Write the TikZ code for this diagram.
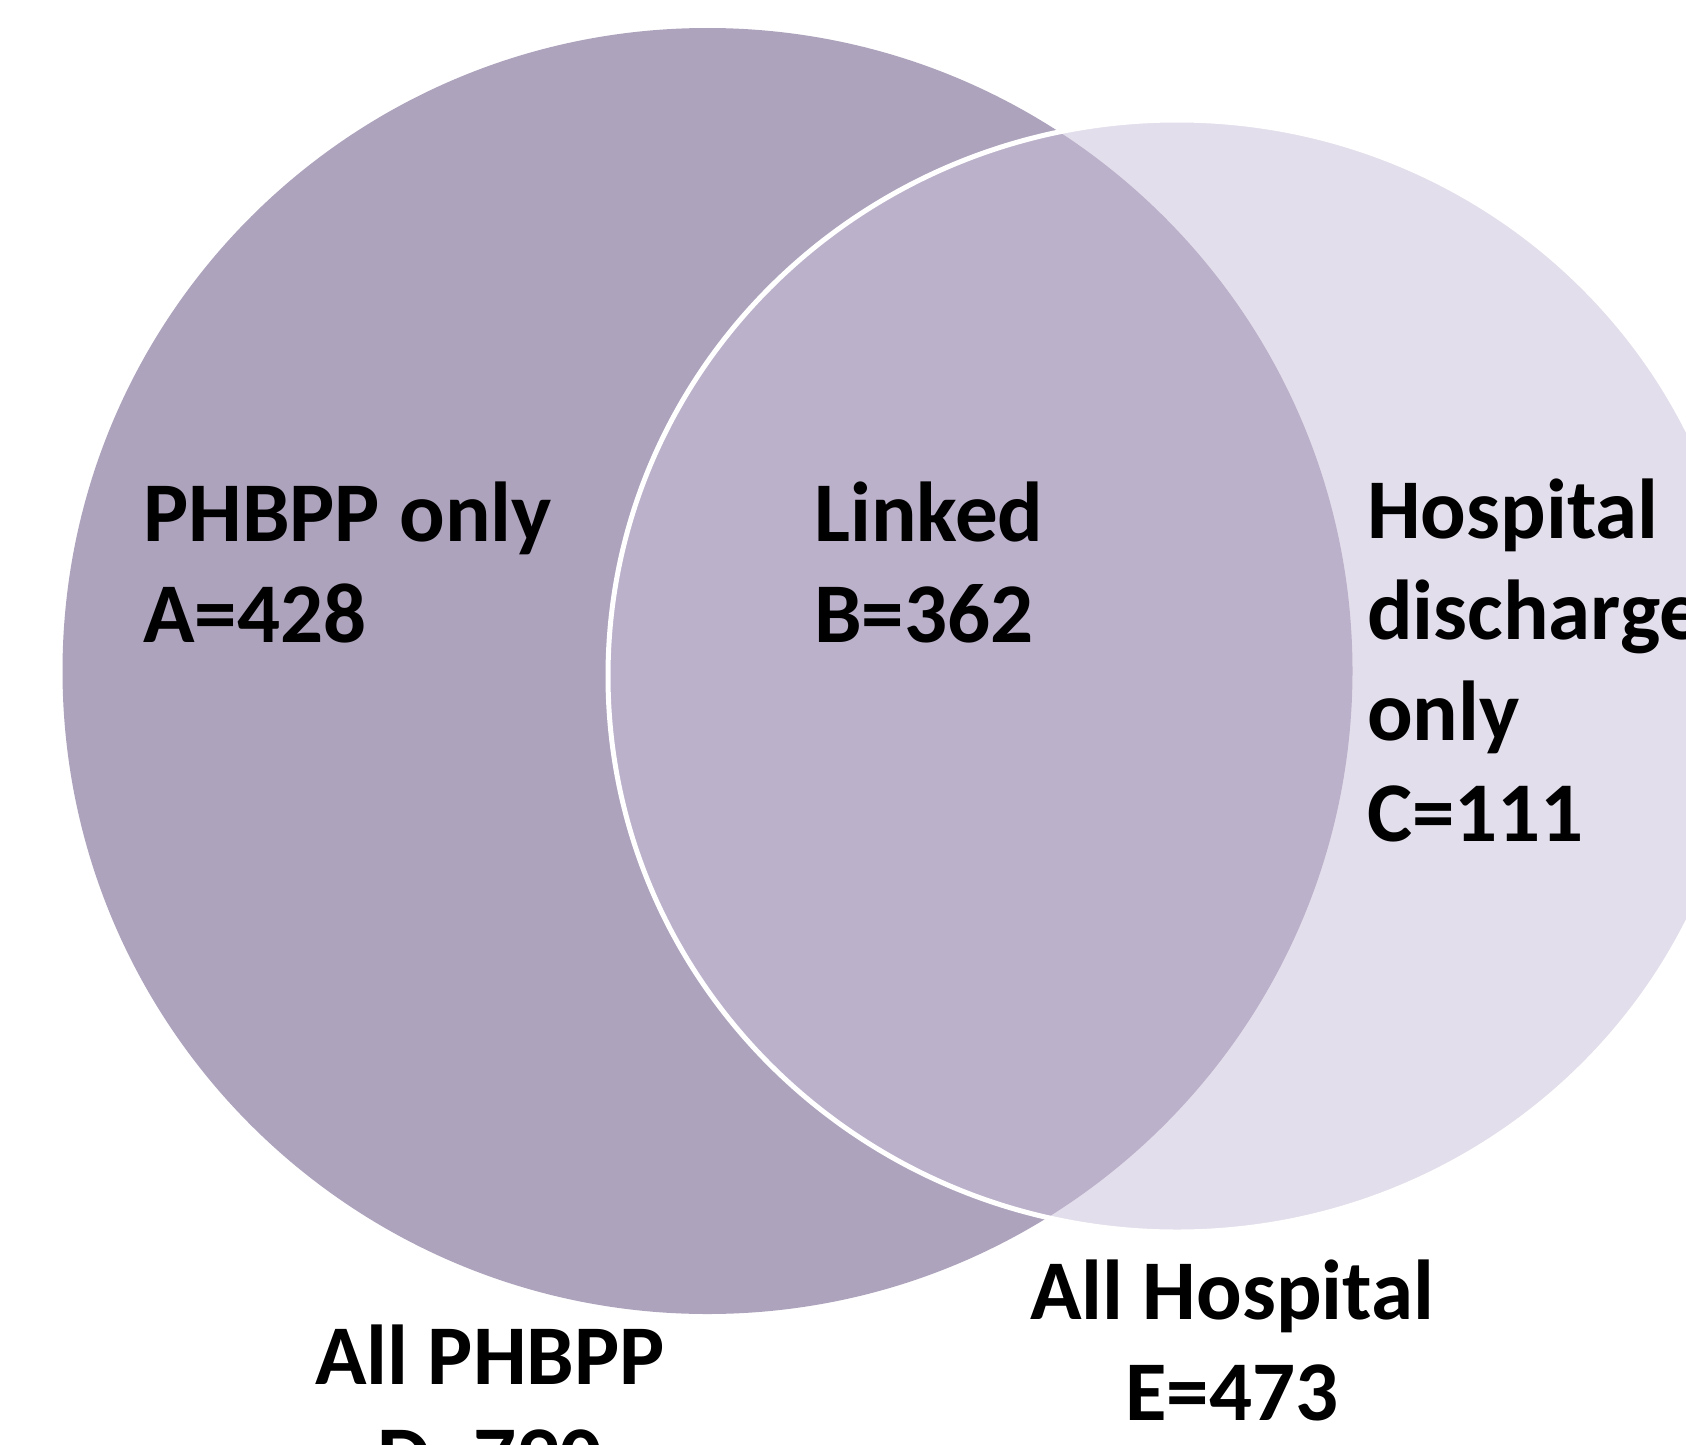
\documentclass[tikz,border=0pt]{standalone}
\usepackage{fontspec}
\setmainfont{Carlito}
\definecolor{leftfill}{RGB}{173,163,188}
\definecolor{rightfill}{RGB}{201,191,217}
\begin{document}
\begin{tikzpicture}[x=1pt,y=-1pt,
  lbl/.style={inner sep=0pt, font=\fontsize{85}{101}\selectfont\bfseries, text=black},
]
\useasboundingbox (0,0) rectangle (1686,1445);
\clip (0,0) rectangle (1686,1445);
\fill[white] (0,0) rectangle (1686,1445);
% circles
\fill[leftfill] (707.5,671) ellipse[x radius=645, y radius=643];
\path[fill=rightfill, fill opacity=0.5, draw=white, draw opacity=1, line width=5pt]
  (1177,676) ellipse[x radius=569, y radius=556];
% labels (base anchor = baseline of last line)
\node[lbl, anchor=base west, align=left] (a) at (143,642) {PHBPP only\\A=428};
\node[lbl, anchor=base west, align=left] (b) at (814,642) {Linked\\B=362};
\node[lbl, anchor=base west, align=left] (c) at (1367,841) {Hospital\\discharge\\only\\C=111};
\node[lbl, anchor=base, align=center] (e) at (1232,1420) {All Hospital\\E=473};
\node[lbl, anchor=base, align=center] (d) at (490,1485) {All PHBPP\\D=790};
\end{tikzpicture}
\end{document}
